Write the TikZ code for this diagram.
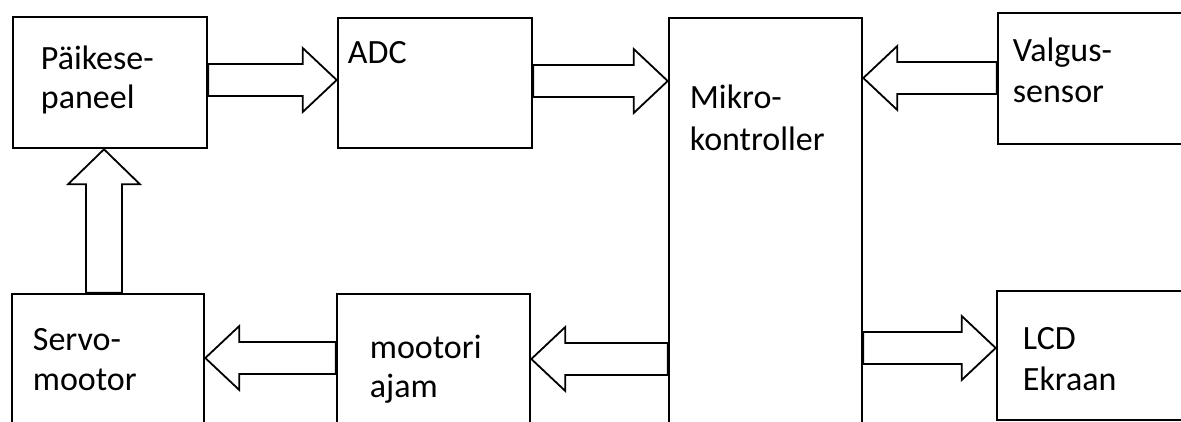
\documentclass[tikz,border=0pt]{standalone}
\usepackage{fontspec}
\setmainfont{Carlito}
\usetikzlibrary{calc,fit}
\tikzset{
  x=1pt, y=-1pt,
  box/.style={draw, line width=2.6pt, inner sep=0pt},
  lbl/.style={anchor=base west, inner sep=0pt, font=\fontsize{34}{40}\selectfont},
  blockarrow/.style={draw, line width=1.8pt, line join=miter},
}
% horizontal block arrow from tail #1 to tip #2
\newcommand\harrow[2]{%
  \draw[blockarrow] let \p1=(#1), \p2=(#2), \n1={sign(\x2-\x1)*34} in
    (\x1,\y1+16pt) -- (\x2-\n1*1pt,\y1+16pt) -- (\x2-\n1*1pt,\y1+32pt)
    -- (\x2,\y2) -- (\x2-\n1*1pt,\y1-32pt) -- (\x2-\n1*1pt,\y1-16pt)
    -- (\x1,\y1-16pt) -- cycle;}
% vertical block arrow from tail #1 to tip #2
\newcommand\varrow[2]{%
  \draw[blockarrow] let \p1=(#1), \p2=(#2), \n1={sign(\y2-\y1)*35} in
    (\x1+18pt,\y1) -- (\x1+18pt,\y2-\n1*1pt) -- (\x1+36pt,\y2-\n1*1pt)
    -- (\x2,\y2) -- (\x1-36pt,\y2-\n1*1pt) -- (\x1-18pt,\y2-\n1*1pt)
    -- (\x1-18pt,\y1) -- cycle;}
\begin{document}
\begin{tikzpicture}
  \useasboundingbox (0,0) rectangle (1181,421);
  \clip (0,0) rectangle (1181,421);

  % blocks
  \node[box, fit={(13,17) (207,148)}]   (pv)  {};
  \node[box, fit={(338,18) (532,148)}]  (adc) {};
  \node[box, fit={(669,18) (862,440)}]  (mk)  {};
  \node[box, fit={(998,13) (1200,144)}] (vs)  {};
  \node[box, fit={(12,294) (204,440)}]  (sm)  {};
  \node[box, fit={(337,294) (530,440)}] (ma)  {};
  \node[box, fit={(997,291) (1200,420)}] (lcd) {};

  % labels
  \node[lbl] (pv1)  at ($(pv.north west)+(29,54)$)  {Päikese-};
  \node[lbl] (pv2)  at ($(pv.north west)+(29,93)$)  {paneel};
  \node[lbl] (adc1) at ($(adc.north west)+(11,47)$) {ADC};
  \node[lbl] (mk1)  at ($(mk.north west)+(22,92)$)  {Mikro-};
  \node[lbl] (mk2)  at ($(mk.north west)+(22,134)$) {kontroller};
  \node[lbl] (vs1)  at ($(vs.north west)+(16,50)$)  {Valgus-};
  \node[lbl] (vs2)  at ($(vs.north west)+(16,91)$)  {sensor};
  \node[lbl] (sm1)  at ($(sm.north west)+(22,58)$)  {Servo-};
  \node[lbl] (sm2)  at ($(sm.north west)+(22,98)$)  {mootor};
  \node[lbl] (ma1)  at ($(ma.north west)+(34,66)$)  {mootori};
  \node[lbl] (ma2)  at ($(ma.north west)+(34,105)$) {ajam};
  \node[lbl] (lcd1) at ($(lcd.north west)+(27,60)$) {LCD};
  \node[lbl] (lcd2) at ($(lcd.north west)+(27,101)$) {Ekraan};

  % signal flow
  \harrow{pv.east |- 0,80}{adc.west |- 0,80}
  \harrow{adc.east |- 0,81}{mk.west |- 0,81}
  \harrow{vs.west |- 0,78}{mk.east |- 0,78}
  \varrow{sm.north -| 104,0}{pv.south -| 104,0}
  \harrow{ma.west |- 0,358}{sm.east |- 0,358}
  \harrow{mk.west |- 0,359}{ma.east |- 0,359}
  \harrow{mk.east |- 0,348}{lcd.west |- 0,348}
\end{tikzpicture}
\end{document}
